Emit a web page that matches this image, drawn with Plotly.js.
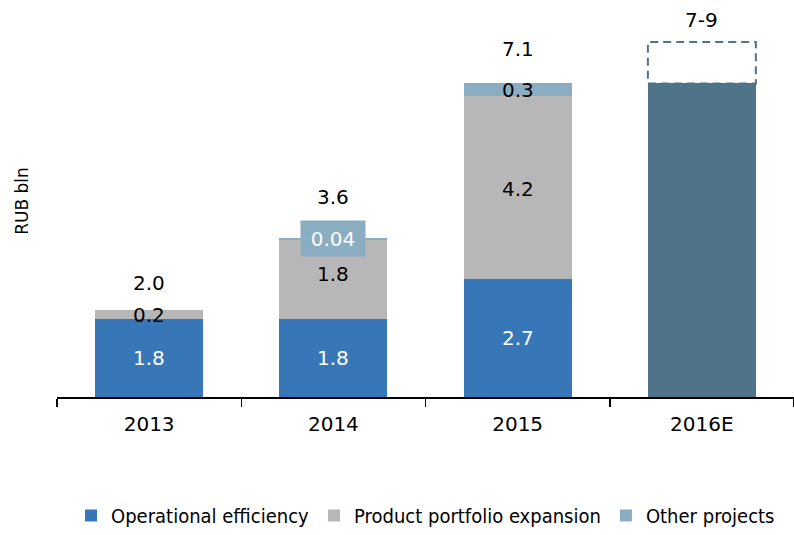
<!DOCTYPE html>
<html>
<head>
<meta charset="utf-8">
<script src="https://cdn.plot.ly/plotly-3.0.1.min.js"></script>
<style>html,body{margin:0;padding:0;background:#fff;}#chart{width:794px;height:535px;}</style>
</head>
<body>
<div id="chart"></div>
<script>
// ---- data ----
const years = ['2013', '2014', '2015', '2016E'];
const operationalEfficiency = [1.8, 1.8, 2.7, null];
const portfolioExpansion = [0.2, 1.8, 4.2, null];
const otherProjects = [null, 0.04, 0.3, null];
const forecastLow = [null, null, null, 7.2];
const forecastHigh = [null, null, null, 8.15];
const totalLabels = ['2.0', '3.6', '7.1', '7-9'];
const opLabels = ['1.8', '1.8', '2.7', null];
const portLabels = ['0.2', '1.8', '4.2', null];
const otherLabels = [null, '0.04', '0.3', null];
const seriesNames = ['Operational efficiency', 'Product portfolio expansion', 'Other projects'];

// ---- styles ----
const cBlue = '#3777B8', cGray = '#B7B7B7', cOther = '#8BADC2', cFc = '#4F7489';
const barW = 0.586;
const F = 'DejaVu Sans, Verdana, sans-serif';
const totalShift = [27, 41, 34, 22];

const traces = [
  {type: 'bar', name: seriesNames[0], x: years, y: operationalEfficiency, width: barW,
   marker: {color: cBlue}, hoverinfo: 'skip'},
  {type: 'bar', name: seriesNames[1], x: years, y: portfolioExpansion, width: barW,
   marker: {color: cGray}, hoverinfo: 'skip'},
  {type: 'bar', name: seriesNames[2], x: years, y: otherProjects, width: barW,
   marker: {color: cOther}, hoverinfo: 'skip'},
  {type: 'bar', name: '2016E', x: years, y: forecastLow, width: barW,
   marker: {color: cFc}, showlegend: false, hoverinfo: 'skip'}
];

const ann = [];
years.forEach((yr, i) => {
  const a = operationalEfficiency[i] || 0;
  const b = portfolioExpansion[i] || 0;
  const c = otherProjects[i] || 0;
  if (opLabels[i]) ann.push({x: i, y: a / 2, text: opLabels[i], showarrow: false,
    font: {family: F, size: 20, color: '#fff'}});
  if (portLabels[i]) ann.push({x: i, y: a + b / 2, text: portLabels[i], showarrow: false,
    yshift: (b > 1 && b < 3) ? 5 : -1,
    font: {family: F, size: 20, color: '#000'}});
  if (otherLabels[i]) {
    if (c < 0.1) {
      ann.push({x: i, y: a + b + c, text: otherLabels[i], showarrow: false,
        bgcolor: cOther, width: 64, height: 35, borderpad: 0,
        font: {family: F, size: 20, color: '#fff'}});
    } else {
      ann.push({x: i, y: a + b + c / 2, text: otherLabels[i], showarrow: false,
        font: {family: F, size: 20, color: '#000'}});
    }
  }
  const top = forecastHigh[i] != null ? forecastHigh[i] : a + b + c;
  ann.push({x: i, y: top, text: totalLabels[i], showarrow: false, yanchor: 'middle',
    yshift: totalShift[i], font: {family: F, size: 20, color: '#000'}});
});

const shapes = [];
years.forEach((yr, i) => {
  if (forecastLow[i] != null && forecastHigh[i] != null) {
    shapes.push({type: 'rect', xref: 'x', yref: 'y',
      x0: i - barW / 2, x1: i + barW / 2, y0: forecastLow[i], y1: forecastHigh[i],
      line: {color: cFc, width: 2, dash: '8px,5px'}, fillcolor: 'rgba(0,0,0,0)'});
  }
});

const layout = {
  width: 794, height: 535,
  margin: {l: 57, r: 0, t: 5, b: 138, autoexpand: false},
  paper_bgcolor: '#fff', plot_bgcolor: '#fff',
  barmode: 'stack',
  showlegend: true,
  legend: {orientation: 'h', x: 0.5, xanchor: 'center', y: -0.352, yanchor: 'bottom',
    traceorder: 'normal', font: {family: 'DejaVu Sans Condensed, DejaVu Sans, sans-serif', size: 20, color: '#000'}},
  xaxis: {type: 'category', showline: true, linecolor: '#000', linewidth: 1.5,
    ticks: 'outside', tickson: 'boundaries', ticklen: 8, tickwidth: 1.5, tickcolor: '#000',
    tickfont: {family: F, size: 20, color: '#000'}, showgrid: false, zeroline: false,
    range: [-0.5, 3.5], ticklabelstandoff: 8, automargin: false},
  yaxis: {range: [0, 9], showticklabels: false, showgrid: false, zeroline: false,
    showline: false, ticks: '', automargin: false,
    title: {text: 'RUB bln', font: {family: F, size: 17, color: '#000'}, standoff: 23}},
  annotations: ann,
  shapes: shapes
};

Plotly.newPlot('chart', traces, layout, {displayModeBar: false, staticPlot: true});
</script>
</body>
</html>
